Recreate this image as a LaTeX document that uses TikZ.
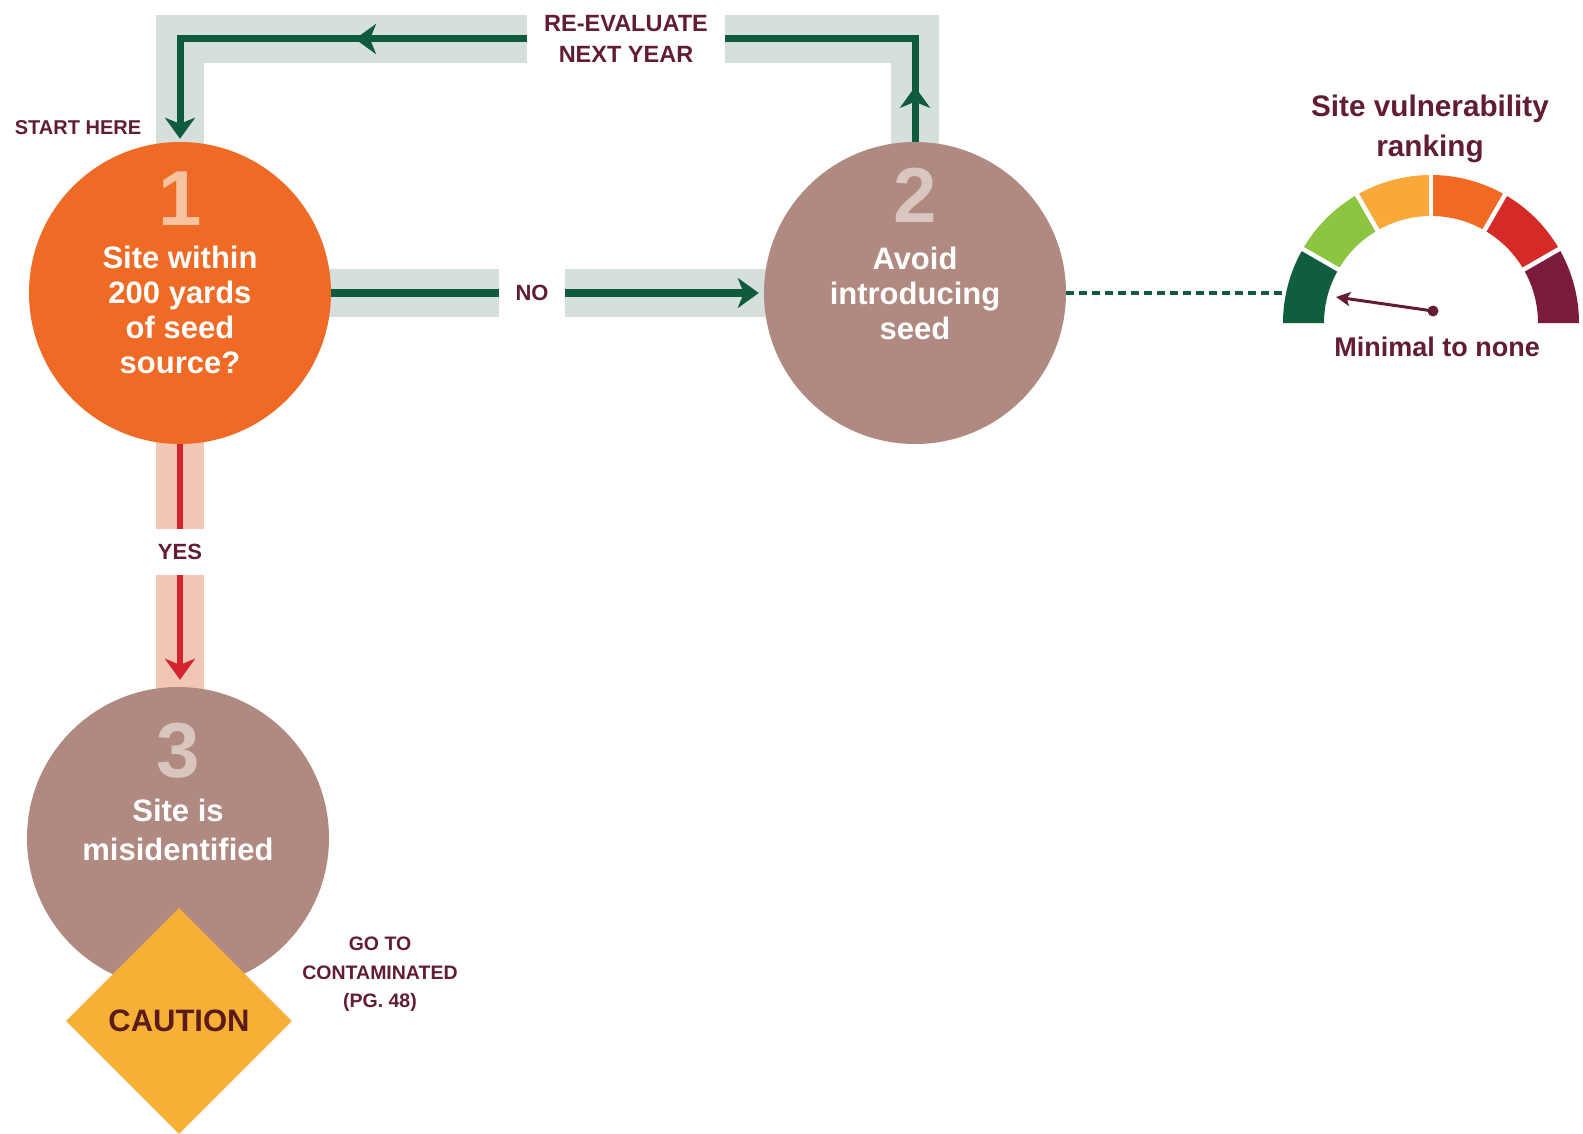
\documentclass[tikz,border=0pt]{standalone}
\usepackage{fontspec}
\setmainfont{Liberation Sans}
\usetikzlibrary{arrows.meta,shapes.geometric,backgrounds,decorations.markings}

\definecolor{corange}{HTML}{EF6A25}
\definecolor{cbrown}{HTML}{B08A80}
\definecolor{cband}{HTML}{D5DFDB}
\definecolor{cgreen}{HTML}{0F5C3D}
\definecolor{cmaroon}{HTML}{621D35}
\definecolor{cpeach}{HTML}{F7C2A0}
\definecolor{cnum}{HTML}{D9C6C0}
\definecolor{cyellow}{HTML}{F7AF35}
\definecolor{ccaution}{HTML}{5A1B1B}
\definecolor{cpink}{HTML}{F2C6B5}
\definecolor{cred}{HTML}{D42430}
\definecolor{gA}{HTML}{0F5E3E}
\definecolor{gB}{HTML}{8DC540}
\definecolor{gC}{HTML}{F9A93A}
\definecolor{gD}{HTML}{F06A24}
\definecolor{gE}{HTML}{D62A27}
\definecolor{gF}{HTML}{7B1B3D}

\begin{document}
\begin{tikzpicture}[x=1pt,y=-1pt,
  circ/.style={circle, minimum size=302pt, inner sep=0pt, fill=#1},
  num/.style={font=\fontsize{78}{78}\selectfont\bfseries, inner sep=0pt, anchor=north},
  ctext/.style={font=\fontsize{31}{35}\selectfont\bfseries, text=white, align=center, inner sep=0pt, anchor=north},
  lbl/.style={font=\fontsize{23.5}{31}\selectfont\bfseries, text=cmaroon, align=center},
  small/.style={font=\fontsize{19.5}{28.5}\selectfont\bfseries, text=cmaroon, align=center, inner sep=0pt},
  band/.style={line width=48pt, draw=cband},
  pband/.style={line width=48pt, draw=cpink},
  flow/.style={line width=7pt, draw=cgreen},
  rflow/.style={line width=6pt, draw=cred},
  bigtip/.style={-{Stealth[length=21pt,width=30pt,inset=6pt]}},
  midtip/.style={postaction={decorate}, decoration={markings,
     mark=at position #1 with {\arrow{Stealth[length=21pt,width=30pt,inset=6pt,color=cgreen]}}}}
]
\useasboundingbox (0,0) rectangle (1583,1134);

% circles
\node[circ=corange] (c1) at (180,293) {};
\node[circ=cbrown]  (c2) at (915,293) {};
\node[circ=cbrown]  (c3) at (178,838) {};

% circle texts
\node[num, text=cpeach] (n1) at (180,172) {1};
\node[ctext] (t1) at (180,246) {Site within\\200 yards\\of seed\\source?};
\node[num, text=cnum] (n2) at (915,168) {2};
\node[ctext] (t2) at (915,247) {Avoid\\introducing\\seed};
\node[num, text=cnum] (n3) at (178,723) {3};
\node[ctext, font=\fontsize{31}{39}\selectfont\bfseries] (t3) at (178,799) {Site is\\misidentified};

% caution
\node[diamond, fill=cyellow, minimum width=226pt, minimum height=226pt, inner sep=0pt,
      font=\fontsize{31}{35}\selectfont\bfseries, text=ccaution] (caution) at (179,1021) {CAUTION};

% labels
\node[lbl, inner xsep=17pt, inner ysep=0pt] (reeval) at (626,39) {RE-EVALUATE\\NEXT YEAR};
\node[lbl, inner xsep=16pt, inner ysep=0pt, font=\fontsize{22}{26}\selectfont\bfseries] (no) at (532,293) {NO};
\node[lbl, inner xsep=0pt, inner ysep=15pt, font=\fontsize{22}{26}\selectfont\bfseries] (yes) at (180,552) {YES};
\node[small, font=\fontsize{20}{28.5}\selectfont\bfseries] (start) at (78,128) {START HERE};
\node[small, anchor=north] (goto) at (380,937) {GO TO\\CONTAMINATED\\(PG. 48)};

% background bands
\begin{pgfonlayer}{background}
  \fill[white] (0,0) rectangle (1583,1134);
  \draw[band, line join=miter] (c2.center) |- (reeval.east);
  \draw[band, line join=miter] (reeval.west) -| (c1.center);
  \draw[band] (c1.center) -- (no.west);
  \draw[band] (no.east) -- (c2.center);
  \draw[pband] (c1.center) -- (yes.north);
  \draw[pband] (yes.south) -- (yes.south |- c3.center);
\end{pgfonlayer}

% flow lines
\draw[flow, line join=miter, midtip=55pt] (c2.north) |- (reeval.east);
\draw[flow, line join=miter, midtip=172pt, bigtip, shorten >=3pt] (reeval.west) -| (c1.north);
\draw[flow] (c1.east) -- (no.west);
\draw[flow, bigtip, shorten >=5pt] (no.east) -- (c2.west);
\draw[rflow] (c1.south) -- (yes.north);
\draw[rflow, -{Stealth[length=21pt,width=30pt,inset=6pt]}, shorten >=7pt] (yes.south) -- (yes.south |- c3.north);

% gauge
\coordinate (g) at (1431,323);
\foreach \a/\b/\c in {180/150/gA,150/120/gB,120/90/gC,90/60/gD,60/30/gE,30/0/gF}{
  \fill[\c] ([shift={(g)}]\a:148pt) arc[start angle=\a, end angle=\b, radius=148pt]
     -- ([shift={(g)}]\b:107pt) arc[start angle=\b, end angle=\a, radius=107pt] -- cycle;
}
\foreach \a in {150,120,90,60,30}{
  \draw[white, line width=4.5pt] ([shift={(g)}]\a:100pt) -- ([shift={(g)}]\a:155pt);
}
\coordinate (gl) at (1283,293);
\draw[cgreen, line width=3.5pt, dash pattern=on 8pt off 5pt] (c2.east) -- (gl);

\node[circle, fill=cmaroon, minimum size=11pt, inner sep=0pt] (hub) at (1433,311) {};
\coordinate (ntip) at (1336,297);
\draw[cmaroon, line width=3pt, -{Stealth[length=14pt,width=14pt,inset=3pt]}] (hub.center) -- (ntip);

\node[font=\fontsize{29.7}{40}\selectfont\bfseries, text=cmaroon, align=center, inner sep=0pt, anchor=north]
  (gtitle) at (1430,95) {Site vulnerability\\ranking};
\node[font=\fontsize{27}{30}\selectfont\bfseries, text=cmaroon, inner sep=0pt, anchor=north]
  (gmin) at (1437,337) {Minimal to none};
\end{tikzpicture}
\end{document}
